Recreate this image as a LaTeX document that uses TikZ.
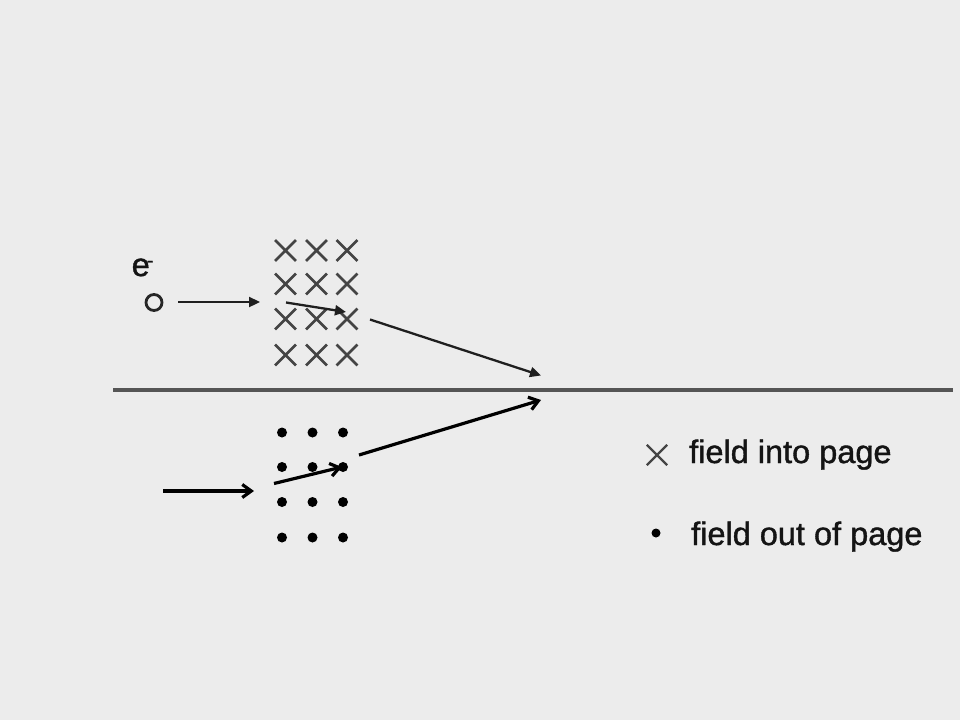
\documentclass[tikz,border=0pt]{standalone}
\usepackage{fontspec}
\setmainfont{Liberation Sans}[FakeBold=1.2]
\usetikzlibrary{arrows.meta,shapes.misc}
\definecolor{bg}{HTML}{ECECEC}
\definecolor{crossgray}{HTML}{444444}
\definecolor{axisgray}{HTML}{555555}
\begin{document}
\begin{tikzpicture}[x=1pt,y=-1pt,
 crossmark/.style={cross out, draw=crossgray, line width=2.8pt, minimum size=18pt, inner sep=0pt},
 dotmark/.style={circle, fill=black, minimum size=10pt, inner sep=0pt},
 upper arrow/.style={draw=black!88, line width=2.3pt, -{Triangle[length=11pt,width=10pt]}},
 lower arrow/.style={draw=black, line width=3.2pt, -{Straight Barb[length=9pt,width=13pt]}},
 label text/.style={inner sep=0pt, anchor=base west, text=black!92, font=\fontsize{32.5}{39}\selectfont}]
\fill[bg] (0,0) rectangle (960,720);
\useasboundingbox (0,0) rectangle (960,720);

% dividing line
\coordinate (lineL) at (113,390);
\coordinate (lineR) at (953,390);
\draw[axisgray, line width=3.2pt] (lineL) -- (lineR);

% field into page (crosses)
\foreach \c/\x in {1/285.5,2/316.5,3/347}
  \foreach \r/\y in {1/250.5,2/284,3/319,4/355}
    \node[crossmark] (x\r\c) at (\x,\y) {};

% field out of page (dots)
\foreach \c/\x in {1/282,2/312.5,3/343}
  \foreach \r/\y in {1/432.5,2/467,3/502,4/537.5}
    \node[dotmark] (d\r\c) at (\x,\y) {};

% electron
\node[label text] (elabel) at (131.5,276) {e\kern-3pt\raisebox{9pt}{\fontsize{20}{20}\selectfont -}};
\node[circle, draw=black!85, line width=2.8pt, minimum size=16pt, inner sep=0pt] (electron) at (154,302.5) {};

% upper path
\coordinate (a1s) at (178,302);
\coordinate (a1e) at (260,302);
\coordinate (a2s) at (286,302.5);
\coordinate (a2e) at (346,312);
\coordinate (a3s) at (370,319.5);
\coordinate (a3e) at (541,375.5);
\draw[upper arrow] (a1s) -- (a1e);
\draw[upper arrow] (a2s) -- (a2e);
\draw[upper arrow] (a3s) -- (a3e);

% lower path
\coordinate (b1s) at (163,491);
\coordinate (b1e) at (254,491);
\coordinate (b2s) at (274,483.5);
\coordinate (b2e) at (342,467);
\coordinate (b3s) at (359,455);
\coordinate (b3e) at (541,400);
\draw[lower arrow] (b1s) -- (b1e);
\draw[lower arrow] (b2s) -- (b2e);
\draw[lower arrow] (b3s) -- (b3e);

% legend
\node[crossmark, line width=2.3pt] (legx) at (657,455) {};
\node[label text] (legxt) at (689,463) {field into page};
\node[dotmark, minimum size=9pt] (legd) at (656,533) {};
\node[label text] (legdt) at (691,545) {field out of page};
\end{tikzpicture}
\end{document}
